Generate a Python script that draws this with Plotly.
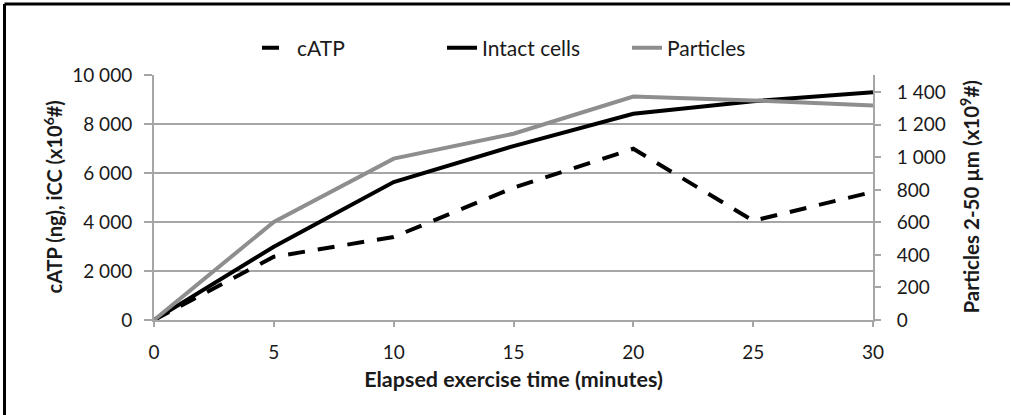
import plotly.graph_objects as go

# elapsed time (minutes)
minutes = [0, 5, 10, 15, 20, 25, 30]

# left axis: cATP (ng) and intact cell count (x10^6 #)
catp = [0, 2580, 3390, 5400, 6990, 4050, 5230]
intact_cells = [0, 2990, 5630, 7100, 8420, 8930, 9300]

# right axis: particles 2-50 um (x10^9 #)
particles = [0, 603, 992, 1145, 1374, 1350, 1319]

left_ticks = [0, 2000, 4000, 6000, 8000, 10000]
left_labels = ["0", "2 000", "4 000", "6 000", "8 000", "10 000"]
right_ticks = [0, 200, 400, 600, 800, 1000, 1200, 1400]
right_labels = ["0", "200", "400", "600", "800", "1 000", "1 200", "1 400"]

W, H = 1011, 415
ml, mr, mt, mb = 154, 138, 75, 95
FONT = "Lato"
GRID = "#a6a6a6"
TXT = "#1a1a1a"

pw = W - ml - mr
ph = H - mt - mb

fig = go.Figure()

fig.add_trace(go.Scatter(x=minutes, y=catp, name="cATP", mode="lines",
                         line=dict(color="black", width=4, dash="17px,13px")))
fig.add_trace(go.Scatter(x=minutes, y=intact_cells, name="Intact cells", mode="lines",
                         line=dict(color="black", width=4)))
fig.add_trace(go.Scatter(x=minutes, y=particles, name="Particles", mode="lines",
                         yaxis="y2", line=dict(color="#8e8e8e", width=4)))

fig.update_layout(
    width=W, height=H,
    margin=dict(l=ml, r=mr, t=mt, b=mb),
    paper_bgcolor="white", plot_bgcolor="white",
    font=dict(family=FONT, size=19, color=TXT),
    showlegend=True,
    legend=dict(orientation="h", xanchor="left", x=(257 - ml) / pw,
                yanchor="middle", y=1 + (mt - 48) / ph,
                font=dict(size=21, color=TXT), entrywidth=140, entrywidthmode="pixels"),
    xaxis=dict(range=[0, 30], tickvals=[0, 5, 10, 15, 20, 25, 30],
               showgrid=False, zeroline=False,
               showline=True, linecolor=GRID, linewidth=2,
               ticks="outside", ticklen=5, tickcolor=GRID, tickwidth=2,
               ticklabelstandoff=9,
               title=dict(text="<b>Elapsed exercise time (minutes)</b>",
                          font=dict(size=21.5, color=TXT), standoff=10)),
    yaxis=dict(range=[0, 10000], tickvals=left_ticks, ticktext=left_labels,
               showgrid=True, gridcolor=GRID, gridwidth=2, zeroline=False,
               showline=True, linecolor=GRID, linewidth=2,
               ticks="outside", ticklen=8, tickcolor=GRID, tickwidth=2,
               ticklabelstandoff=8),
    yaxis2=dict(range=[0, 1506], tickvals=right_ticks, ticktext=right_labels,
                overlaying="y", side="right", showgrid=False, zeroline=False,
                showline=True, linecolor=GRID, linewidth=2,
                ticks="outside", ticklen=6, tickcolor=GRID, tickwidth=2,
                ticklabelstandoff=12),
)

# rotated axis titles
fig.add_annotation(text="<b>cATP (ng), iCC (x10<sup>6</sup>#)</b>", textangle=-90,
                   xref="paper", yref="paper", x=(52 - ml) / pw, y=0.5,
                   xanchor="center", yanchor="middle", showarrow=False,
                   font=dict(size=20, color=TXT))
fig.add_annotation(text="<b>Particles 2-50 µm (x10<sup>9</sup>#)</b>", textangle=-90,
                   xref="paper", yref="paper", x=(970 - ml) / pw, y=0.5,
                   xanchor="center", yanchor="middle", showarrow=False,
                   font=dict(size=20.5, color=TXT))

# frame lines on the left and top edge of the image
x_left = (4.5 - ml) / pw
x_right = (1010 - ml) / pw
y_top = (H - 4 - mb) / ph
y_bot = (0 - mb) / ph
fig.add_shape(type="line", xref="paper", yref="paper", x0=x_left, x1=x_left,
              y0=y_bot, y1=y_top, line=dict(color="black", width=3))
fig.add_shape(type="line", xref="paper", yref="paper", x0=x_left, x1=x_right,
              y0=y_top, y1=y_top, line=dict(color="black", width=3))

# page body margin off so the figure sits at the window origin
fig.write_html("out.html", config={"displayModeBar": False},
               post_script="document.body.style.margin='0';")
